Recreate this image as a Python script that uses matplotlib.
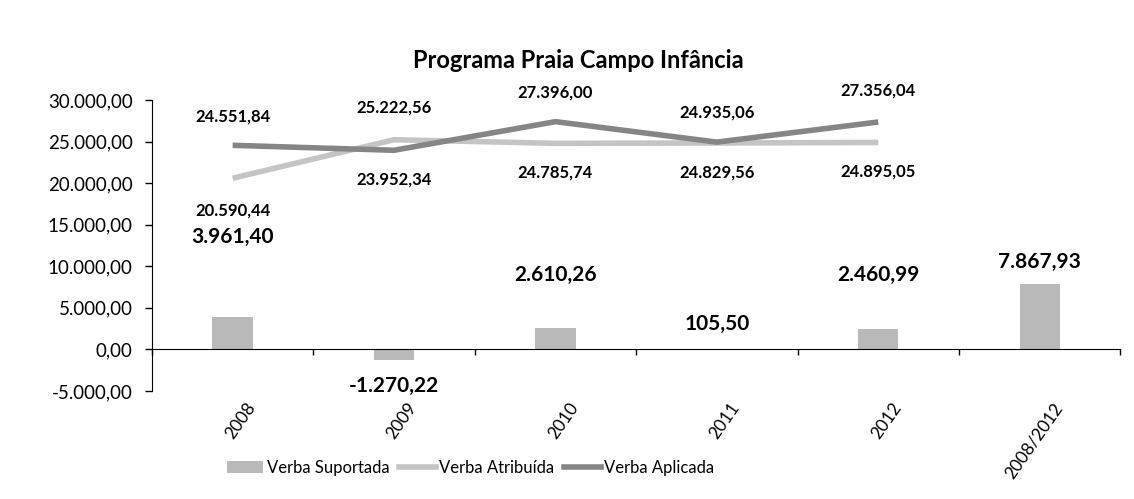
import numpy as np
import matplotlib
matplotlib.use("Agg")
import matplotlib.pyplot as plt
from matplotlib.ticker import FuncFormatter
from matplotlib.lines import Line2D
from matplotlib.patches import Patch

# ----- Data -----
categories = ['2008', '2009', '2010', '2011', '2012', '2008/2012']
verba_suportada = [3961.40, -1270.22, 2610.26, 105.50, 2460.99, 7867.93]
line_years = ['2008', '2009', '2010', '2011', '2012']
verba_atribuida = [20590.44, 25222.56, 24785.74, 24829.56, 24895.05]
verba_aplicada = [24551.84, 23952.34, 27396.00, 24935.06, 27356.04]
title = 'Programa Praia Campo Infância'

# label placement (points), + above / - below
bar_label_offsets = [57, -19, 38, 18, 39, 16]
atrib_label_offsets = [-23, 23, -21, -21, -21]
aplic_label_offsets = [21, -21, 21, 21, 23]


def pt_fmt(v, decimals=2):
    s = f"{v:,.{decimals}f}"
    return s.replace(',', 'X').replace('.', ',').replace('X', '.')


plt.rcParams['font.family'] = ['Lato', 'DejaVu Sans']

fig = plt.figure(figsize=(11.34, 4.99), dpi=100)
ax = fig.add_axes([0.134, 0.2164, 0.854, 0.5832])

x = np.arange(len(categories))
xl = np.arange(len(line_years))

ax.bar(x, verba_suportada, width=0.25, color='#b9b9b9', zorder=2)
ax.plot(xl, verba_atribuida, color='#c4c4c4', lw=4, zorder=3, solid_capstyle='butt')
ax.plot(xl, verba_aplicada, color='#858585', lw=4, zorder=4, solid_capstyle='butt')

for xi, v, off in zip(x, verba_suportada, bar_label_offsets):
    base = max(v, 0) if off > 0 else min(v, 0)
    ax.annotate(pt_fmt(v), (xi, base), xytext=(0, off), textcoords='offset points',
                ha='center', va='center', fontsize=15, fontweight='bold')
for xi, v, off in zip(xl, verba_atribuida, atrib_label_offsets):
    ax.annotate(pt_fmt(v), (xi, v), xytext=(0, off), textcoords='offset points',
                ha='center', va='center', fontsize=12, fontweight='bold')
for xi, v, off in zip(xl, verba_aplicada, aplic_label_offsets):
    ax.annotate(pt_fmt(v), (xi, v), xytext=(0, off), textcoords='offset points',
                ha='center', va='center', fontsize=12, fontweight='bold')

ax.set_xlim(-0.5, len(categories) - 0.5)
ax.set_ylim(-5000, 30000)
ax.set_yticks(np.arange(-5000, 30001, 5000))
ax.yaxis.set_major_formatter(FuncFormatter(lambda v, p: pt_fmt(v)))
ax.tick_params(axis='y', labelsize=13.5, length=5, direction='out', width=1, pad=9)

# x axis drawn at zero, ticks at category boundaries
ax.spines['bottom'].set_position(('data', 0))
ax.spines['top'].set_visible(False)
ax.spines['right'].set_visible(False)
ax.set_xticks(np.arange(len(categories) + 1) - 0.5)
ax.set_xticklabels([])
ax.tick_params(axis='x', length=4, direction='out', width=1)

trans = ax.get_xaxis_transform()
for xi, lab in zip(x, categories):
    ax.text(xi + 0.08, -0.03, lab, transform=trans, rotation=55, rotation_mode='anchor',
            ha='right', va='top', fontsize=12.5)

fig.text(0.51, 0.878, title, ha='center', va='center', fontsize=17, fontweight='bold')

handles = [Patch(facecolor='#b9b9b9', edgecolor='none'),
           Line2D([0], [0], color='#c4c4c4', lw=4),
           Line2D([0], [0], color='#858585', lw=4)]
fig.legend(handles, ['Verba Suportada', 'Verba Atribuída', 'Verba Aplicada'],
           loc='center', bbox_to_anchor=(0.415, 0.062), ncol=3, frameon=False,
           fontsize=12, handlelength=2.2, handletextpad=0.2, columnspacing=0.6)

fig.savefig('out.png', dpi=100)
